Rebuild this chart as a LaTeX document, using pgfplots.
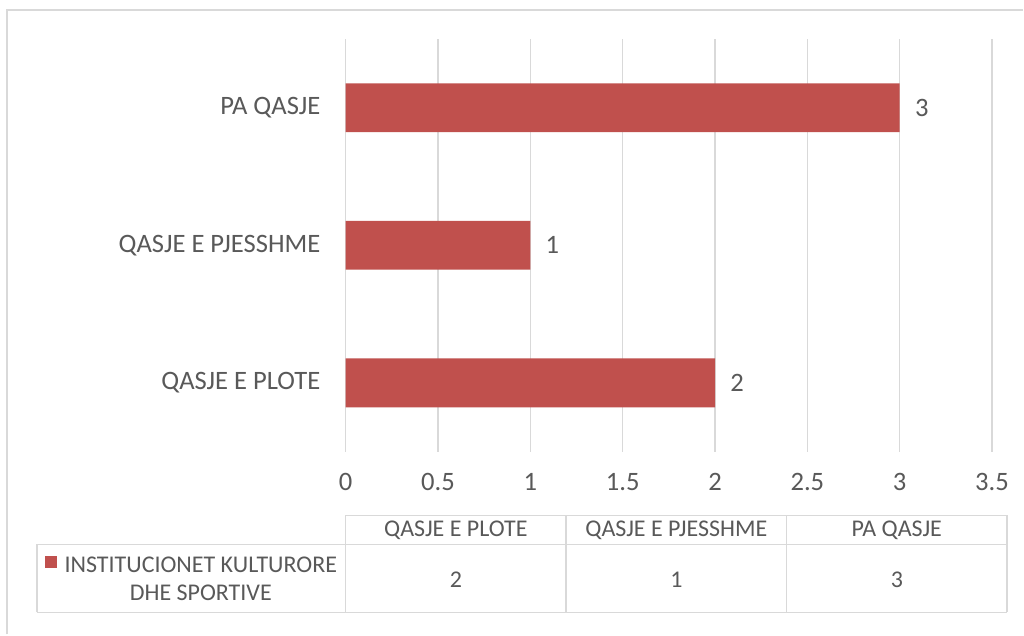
\documentclass[border=0pt]{standalone}
\usepackage{pgfplots}
\pgfplotsset{compat=1.18}
\usepackage{fontspec}
\setmainfont{Carlito}
\definecolor{barred}{HTML}{C0504D}
\definecolor{txt}{HTML}{595959}
\definecolor{gridc}{HTML}{D9D9D9}
\begin{document}
\begin{tikzpicture}
\begin{scope}[x=0.5pt,y=-0.5pt]
\path[fill=white] (0,0) rectangle (1024,635);
\draw[gridc, line width=1pt] (7,635) -- (7,10) -- (1024,10);
\end{scope}
\begin{axis}[at={(173pt,-226pt)}, anchor=south west, scale only axis,
  width=323.5pt, height=206.5pt,
  xbar, bar width=24.5pt,
  xmin=0, xmax=3.5, ymin=-0.5, ymax=2.5,
  ytick={0,1,2}, yticklabels={QASJE E PLOTE, QASJE E PJESSHME, PA QASJE},
  xtick={0,0.5,1,1.5,2,2.5,3,3.5},
  xmajorgrids, grid style={gridc, line width=0.6pt},
  axis line style={draw=none}, major tick length=0pt,
  tick label style={font=\fontsize{13.3}{16}\selectfont, text=txt},
  /pgf/number format/assume math mode=true,
  xticklabel style={anchor=base, yshift=-19.5pt},
  yticklabel style={anchor=east, inner sep=0pt, xshift=-12.5pt},
  nodes near coords,
  every node near coord/.append style={anchor=west, inner sep=0pt, xshift=7.5pt,
     font=\fontsize{13.3}{16}\selectfont, text=txt},
]
\addplot[fill=barred, draw=none] coordinates {(2,0) (1,1) (3,2)};
\end{axis}
\begin{scope}[x=0.5pt,y=-0.5pt, every node/.style={text=txt, font=\fontsize{12}{14}\selectfont}]
\draw[gridc, line width=0.8pt] (346,516) -- (1008,516);
\draw[gridc, line width=0.8pt] (37,545) -- (1008,545);
\draw[gridc, line width=0.8pt] (37,613) -- (1008,613);
\foreach \x in {346,566.7,787.3,1008} \draw[gridc, line width=0.8pt] (\x,516) -- (\x,613);
\draw[gridc, line width=0.8pt] (37,545) -- (37,613);
\node at (456.3,531) {QASJE E PLOTE};
\node at (677,531) {QASJE E PJESSHME};
\node at (897.7,531) {PA QASJE};
\node at (456.3,580) {2};
\node at (677,580) {1};
\node at (897.7,580) {3};
\fill[barred] (45,557) rectangle (57,569);
\node[align=center] at (201,579) {INSTITUCIONET KULTURORE\\DHE SPORTIVE};
\end{scope}
\end{tikzpicture}
\end{document}
